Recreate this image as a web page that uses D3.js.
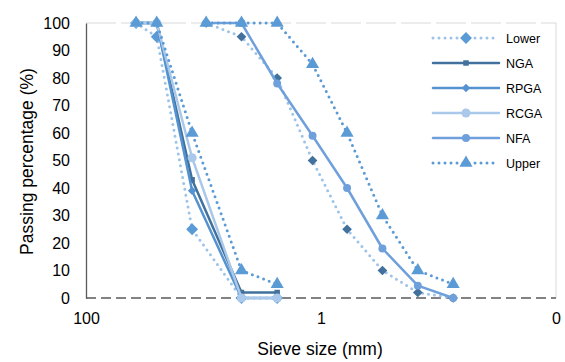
<!DOCTYPE html>
<html>
<head>
<meta charset="utf-8">
<script src="https://cdn.jsdelivr.net/npm/d3@7"></script>
<style>
  body { margin: 0; background: #fff; }
  svg { font-family: "Liberation Sans", Arial, sans-serif; }
</style>
</head>
<body>
<script>
// sieve sizes (mm)
const coarseSieves = [37.5, 25, 12.5, 4.75, 2.36];
const fineSieves = [9.5, 4.75, 2.36, 1.18, 0.6, 0.3, 0.15, 0.075];

// passing percentage
const lowerCoarse = [100, 95, 25, 0, 0];
const upperCoarse = [100, 100, 60, 10, 5];
const ngaValues = [100, 100, 43, 2, 2];
const rpgaValues = [100, 100, 39, 0, 0];
const rcgaValues = [100, 100, 51, 0, 0];
const lowerFine = [100, 95, 80, 50, 25, 10, 2, 0];
const upperFine = [100, 100, 100, 85, 60, 30, 10, 5];
const nfaValues = [100, 100, 78, 59, 40, 18, 4.5, 0];

const xTicks = [100, 1, 0.01];
const xTickLabels = ["100", "1", "0"];
const yTicks = d3.range(0, 101, 10);

const legendNames = ["Lower", "NGA", "RPGA", "RCGA", "NFA", "Upper"];

const W = 565, H = 362;
const plotL = 86, plotR = 556, plotT = 23, plotB = 298;

const svg = d3.select("body").append("svg").attr("width", W).attr("height", H);

const x = d3.scaleLog().domain([100, 0.01]).range([plotL, plotR]);
const y = d3.scaleLinear().domain([0, 100]).range([plotB, plotT]);

// plot border (top dashed grid, right solid)
svg.append("line").attr("x1", plotL).attr("x2", plotR).attr("y1", y(100)).attr("y2", y(100))
    .attr("stroke", "#d9d9d9").attr("stroke-width", 1).attr("stroke-dasharray", "30 5");
svg.append("line").attr("x1", plotR).attr("x2", plotR).attr("y1", plotT).attr("y2", plotB)
    .attr("stroke", "#d9d9d9").attr("stroke-width", 1);

// x axis
const xAxis = d3.axisBottom(x).tickValues(xTicks)
    .tickFormat((d, i) => xTickLabels[i]).tickSize(0).tickPadding(15);
const gx = svg.append("g").attr("transform", "translate(0," + plotB + ")").call(xAxis);
gx.select(".domain").remove();
gx.selectAll("text").attr("font-size", 16).attr("fill", "#000").attr("font-family", "Liberation Sans, Arial");
svg.append("line").attr("x1", plotL).attr("x2", plotR).attr("y1", plotB).attr("y2", plotB)
    .attr("stroke", "#595959").attr("stroke-width", 1.3).attr("stroke-dasharray", "10 5");

// y axis
const yAxis = d3.axisLeft(y).tickValues(yTicks).tickSize(0).tickPadding(16);
const gy = svg.append("g").attr("transform", "translate(" + plotL + ",0)").call(yAxis);
gy.select(".domain").attr("stroke", "#595959").attr("stroke-width", 1.3);
gy.selectAll("text").attr("font-size", 16).attr("fill", "#000").attr("font-family", "Liberation Sans, Arial");

// axis titles
svg.append("text").attr("x", (plotL + plotR) / 2 - 1).attr("y", 355)
    .attr("text-anchor", "middle").attr("font-size", 17.5).text("Sieve size (mm)");
svg.append("text").attr("transform", "translate(33," + ((plotT + plotB) / 2 + 1) + ") rotate(-90)")
    .attr("text-anchor", "middle").attr("font-size", 17.5).text("Passing percentage (%)");

// series
const series = [
  { sieves: coarseSieves, values: lowerCoarse, line: "#9dc3e6", dotted: true, marker: "diamond", mcolor: "#5b9bd5", msize: 90 },
  { sieves: fineSieves, values: lowerFine, line: "#9dc3e6", dotted: true, marker: "diamond", mcolor: "#41719c", msize: 60 },
  { sieves: coarseSieves, values: ngaValues, line: "#41719c", dotted: false, marker: "square", mcolor: "#41719c", msize: 30 },
  { sieves: coarseSieves, values: rpgaValues, line: "#5592d0", dotted: false, marker: "diamond", mcolor: "#5592d0", msize: 45 },
  { sieves: coarseSieves, values: rcgaValues, line: "#a9c8ea", dotted: false, marker: "circle", mcolor: "#a9c8ea", msize: 65 },
  { sieves: fineSieves, values: nfaValues, line: "#6fa0db", dotted: false, marker: "circle", mcolor: "#6fa0db", msize: 50 },
  { sieves: coarseSieves, values: upperCoarse, line: "#5b9bd5", dotted: true, marker: "triangle", mcolor: "#5b9bd5", msize: 75 },
  { sieves: fineSieves, values: upperFine, line: "#5b9bd5", dotted: true, marker: "triangle", mcolor: "#5b9bd5", msize: 75 }
];

const symbols = {
  diamond: d3.symbolDiamond2,
  square: d3.symbolSquare,
  circle: d3.symbolCircle,
  triangle: d3.symbolTriangle
};

const line = d3.line().x(d => x(d[0])).y(d => y(d[1]));

function styleLine(sel, s) {
  sel.attr("fill", "none").attr("stroke", s.line)
    .attr("stroke-width", s.dotted ? 3 : 2.5)
    .attr("stroke-linecap", "round")
    .attr("stroke-linejoin", "round");
  if (s.dotted) sel.attr("stroke-dasharray", "0 6");
}

series.forEach(s => {
  const pts = s.sieves.map((d, i) => [d, s.values[i]]);
  const g = svg.append("g");
  g.append("path").datum(pts).attr("d", line).call(styleLine, s);
  g.selectAll("path.m").data(pts).enter().append("path").attr("class", "m")
    .attr("d", d3.symbol().type(symbols[s.marker]).size(s.msize))
    .attr("transform", d => "translate(" + x(d[0]) + "," + y(d[1]) + ")")
    .attr("fill", s.mcolor);
});

// legend
const legendStyles = [series[0], series[2], series[3], series[4], series[5], series[6]];
const lg = svg.append("g");
legendNames.forEach((name, i) => {
  const s = legendStyles[i];
  const yy = 38 + i * 25;
  const row = lg.append("g");
  row.append("line").attr("x1", 433).attr("x2", 499).attr("y1", yy).attr("y2", yy).call(styleLine, s);
  row.append("path").attr("d", d3.symbol().type(symbols[s.marker]).size(s.msize))
    .attr("transform", "translate(466," + yy + ")").attr("fill", s.mcolor);
  row.append("text").attr("x", 506).attr("y", yy + 4.5).attr("font-size", 12.5).text(name);
});
</script>
</body>
</html>
